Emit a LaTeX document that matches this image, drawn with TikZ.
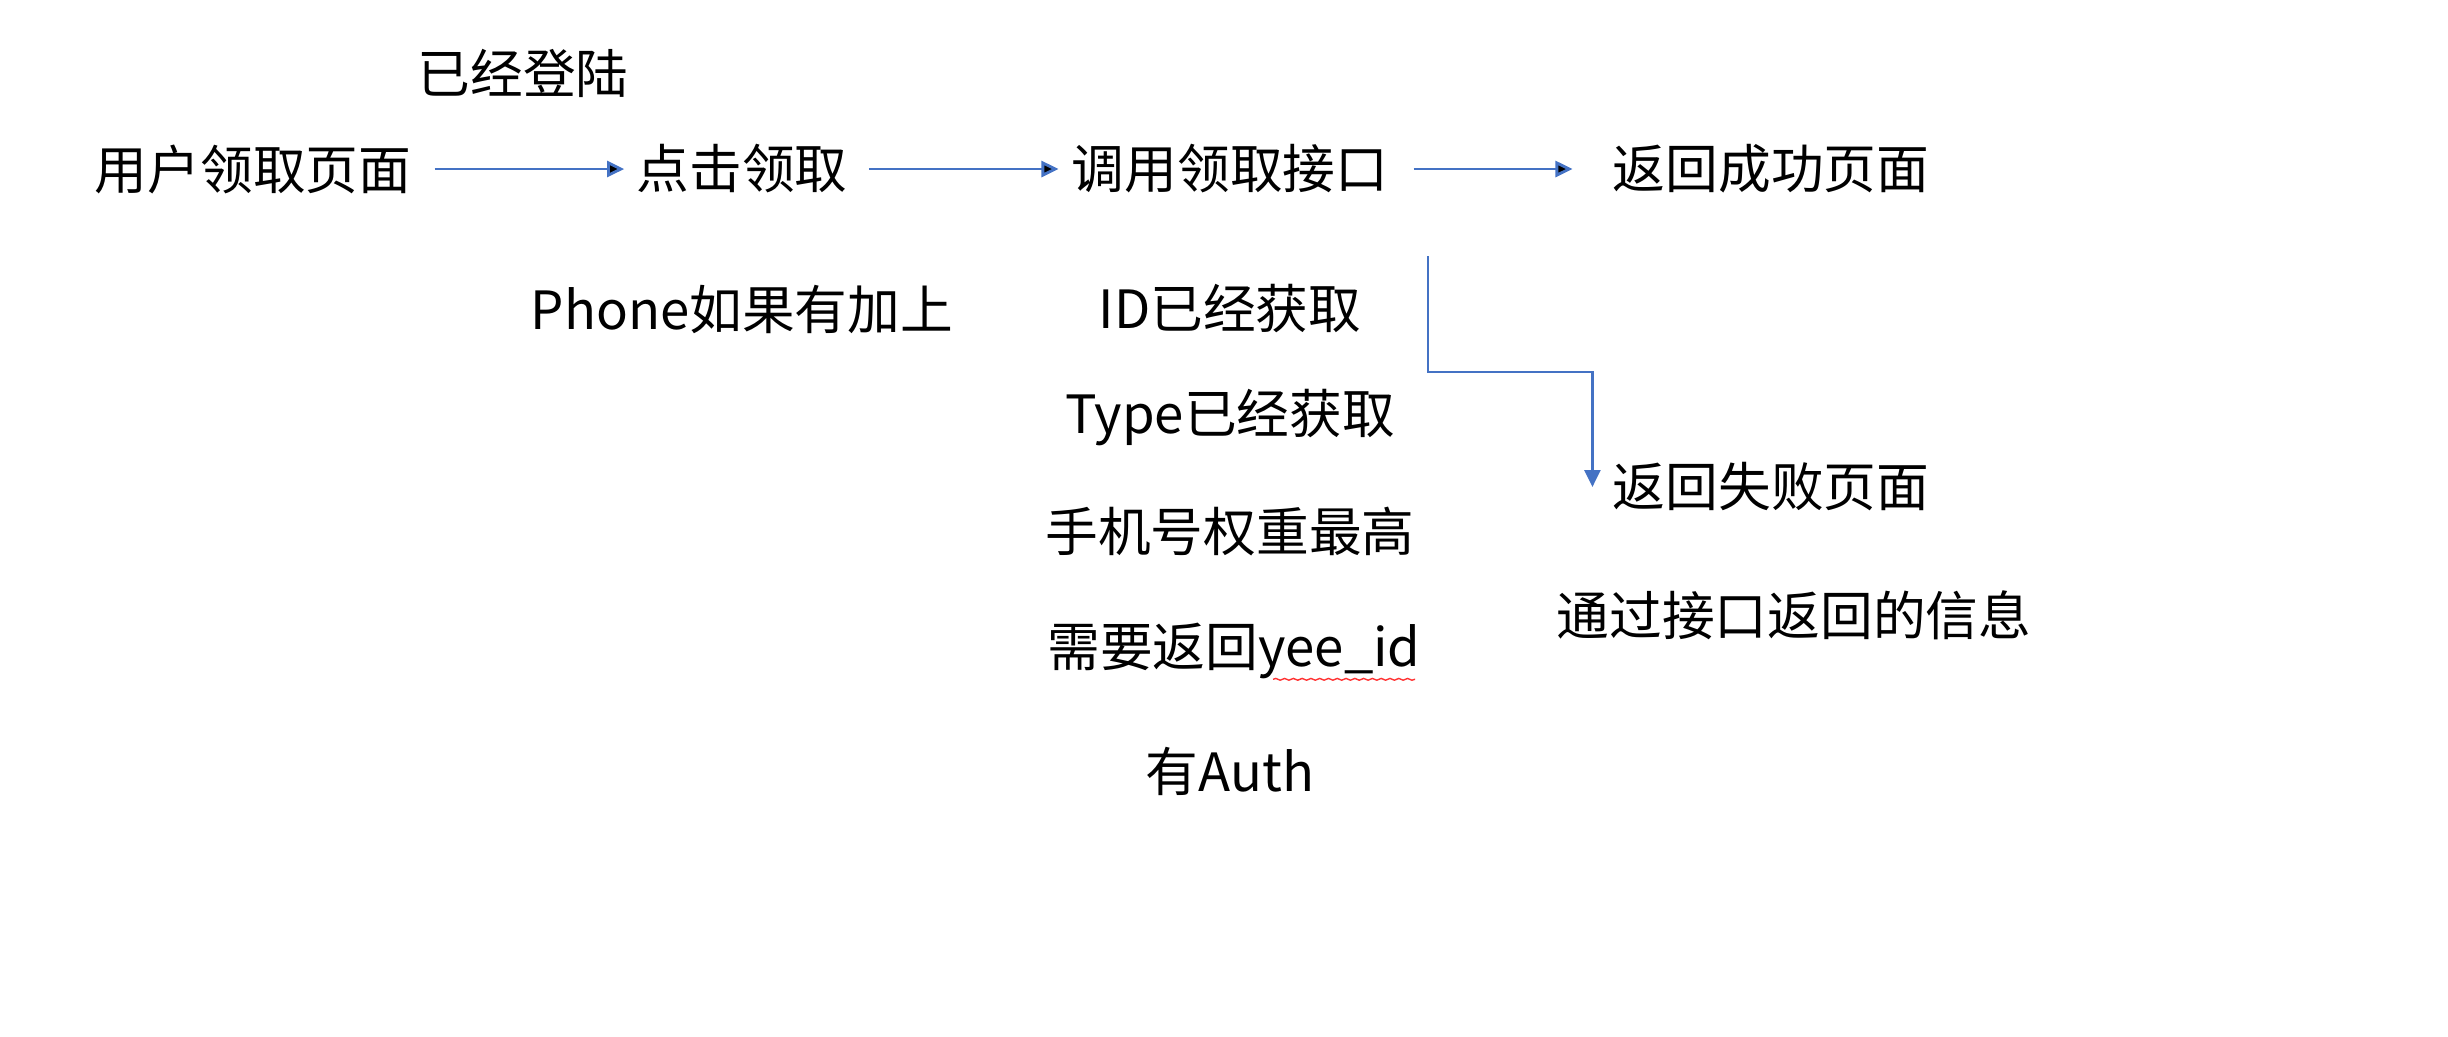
\documentclass[tikz,border=0pt]{standalone}
\usepackage{fontspec}
\setmainfont{Noto Sans CJK SC}
\usepackage{tikz}
\usetikzlibrary{arrows.meta,positioning,decorations.pathmorphing}
\tikzset{>/.tip={Triangle[length=0.17cm,width=0.16cm]}}
\definecolor{flowblue}{HTML}{4472C4}
\tikzset{flow/.style={->,draw=flowblue,line width=0.8pt}}
\tikzset{spell/.style={draw=red!80,line width=0.4pt,decorate,decoration={snake,amplitude=0.25pt,segment length=2.5pt}}}

\begin{document}
\begin{tikzpicture}[node distance=1.4cm,on grid,font=\fontsize{15}{18}\selectfont]
        \useasboundingbox (0,0) rectangle (24.48,-10.36);
        \node(page) at (2.53,-1.69){用户领取页面};
        \node(click)[right=4.89cm of page]{点击领取};
        \node(api)[right=4.88cm of click]{调用领取接口};
        \node(ok)[right=5.41cm of api]{返回成功页面};
        \node(login)[above left=0.96cm and 2.19cm of click]{已经登陆};
        \node(phone)[below=of click]{Phone如果有加上};
        \node(id)[below=of api]{ID已经获取};
        \node(type)[below=1.09cm of id]{Type已经获取};
        \node(weight)[below=1.14cm of type]{手机号权重最高};
        \node(yee)[below right=1.19cm and 0.04cm of weight]{需要返回yee\_id};
        \node(auth)[below left=1.2cm and 0.04cm of yee]{有Auth};
        \node(fail)[below=3.18cm of ok]{返回失败页面};
        \node(info)[below right=1.28cm and 0.23cm of fail]{通过接口返回的信息};
        \coordinate(split) at (14.28,-2.56);
        \draw[flow]
        (page) edge[shorten <=0.11cm] (click)
        (click) edge[shorten <=0.09cm,shorten >=0.01cm] (api)
        (api) edge[shorten <=0.13cm,shorten >=0.28cm] (ok);
        \draw[flow] (split) -- ++(0,-1.16) -| ([xshift=-0.08cm]fail.west);
        \draw[spell] ([xshift=-1.6cm,yshift=0.12cm]yee.south east) -- ([xshift=-0.18cm,yshift=0.12cm]yee.south east);
      \end{tikzpicture}
\end{document}
